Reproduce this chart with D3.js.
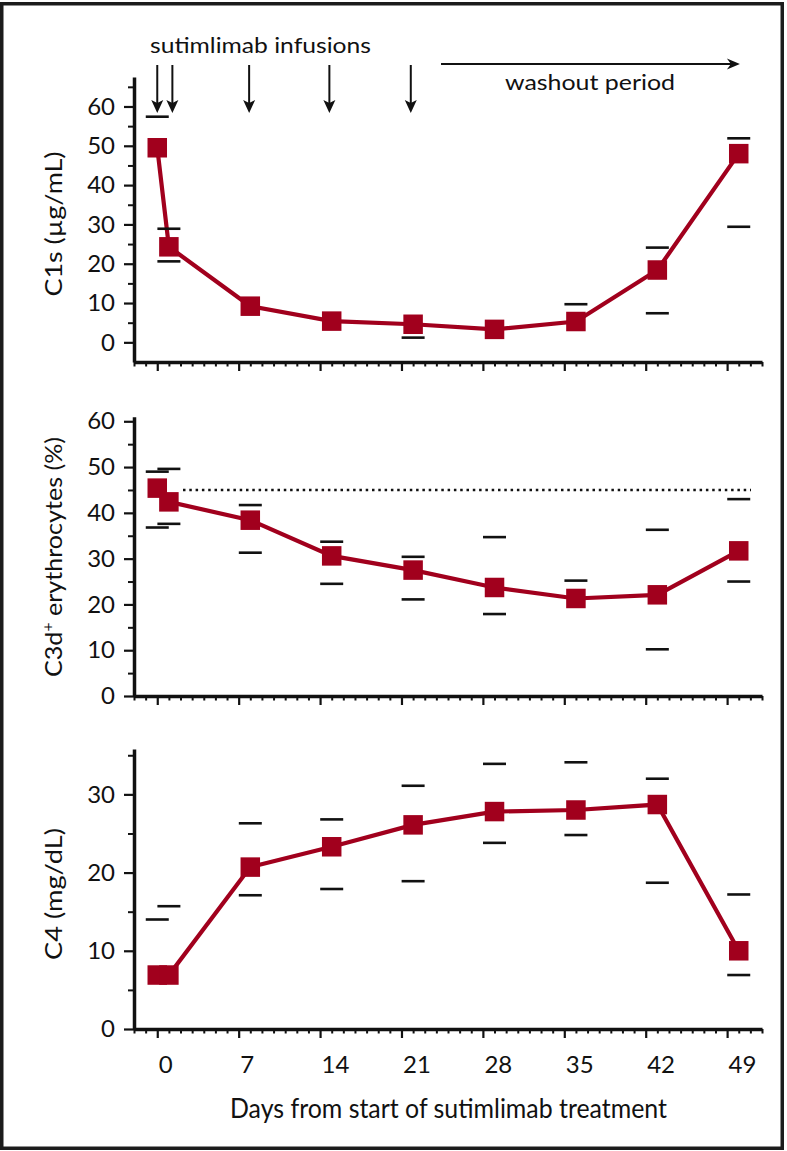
<!DOCTYPE html>
<html>
<head>
<meta charset="utf-8">
<script src="https://cdn.jsdelivr.net/npm/d3@7"></script>
<style>
  html, body { margin: 0; padding: 0; background: #fff; }
  svg { display: block; }
  text { font-family: Lato, "Open Sans", sans-serif; fill: #111; }
</style>
</head>
<body>
<svg id="chart" width="787" height="1151"></svg>
<script>
// ---------- data ----------
const days = [0, 1, 8, 15, 22, 29, 36, 43, 50];
const majorDayTicks = [0, 7, 14, 21, 28, 35, 42, 49];

const c1sMean  = [49.5, 24.3, 9.2, 5.4, 4.6, 3.3, 5.3, 18.4, 48.0];
const c1sUpper = [57.4, 28.9, null, null, null, null, 9.7, 24.1, 51.9];
const c1sLower = [null, 20.6, null, null, 1.2, null, null, 7.4, 29.4];

const c3dMean  = [45.4, 42.4, 38.4, 30.6, 27.5, 23.7, 21.3, 22.1, 31.7];
const c3dUpper = [49.0, 49.6, 41.7, 33.7, 30.4, 34.7, 25.2, 36.3, 43.0];
const c3dLower = [36.8, 37.6, 31.3, 24.5, 21.1, 17.9, null, 10.2, 25.0];
const c3dReference = 45;

const c4Mean  = [6.9, 6.9, 20.7, 23.3, 26.1, 27.8, 28.0, 28.7, 10.0];
const c4Upper = [14.0, 15.7, 26.3, 26.8, 31.1, 33.9, 34.1, 32.0, 17.2];
const c4Lower = [null, null, 17.1, 17.9, 18.9, 23.8, 24.8, 18.7, 6.9];

const c1sTicks = [0, 10, 20, 30, 40, 50, 60];
const c1sMinor = [5, 15, 25, 35, 45, 55, 65];
const c3dTicks = [0, 10, 20, 30, 40, 50, 60];
const c3dMinor = [5, 15, 25, 35, 45, 55];
const c4Ticks = [0, 10, 20, 30];
const c4Minor = [5, 15, 25, 35];

const infusionDays = [0, 1.3, 7.9, 14.8, 21.8];
const washoutStart = 24.4, washoutEnd = 50.1;

// ---------- styling ----------
const RED = "#a1001d";
const svg = d3.select("#chart");

svg.append("rect")
  .attr("x", 1.75).attr("y", 3.75).attr("width", 780.5).attr("height", 1144.5)
  .attr("fill", "none").attr("stroke", "#1c1c1c").attr("stroke-width", 3.5);

const x = d3.scaleLinear().domain([-2, 52]).range([134, 762]);
const minorDays = d3.range(-2, 53).filter(d => !majorDayTicks.includes(d));

function panel(opts) {
  const y = d3.scaleLinear().domain(opts.domain).range(opts.range);
  const g = svg.append("g");
  const axisY = opts.range[0];

  // y axis
  const ya = g.append("g").attr("transform", `translate(${x.range()[0]},0)`)
    .call(d3.axisLeft(y).tickValues(opts.ticks).tickSize(10).tickPadding(9).tickSizeOuter(0));
  ya.select(".domain").attr("stroke", "#111").attr("stroke-width", 3.5);
  ya.selectAll(".tick line").attr("stroke", "#111").attr("stroke-width", 2.2);
  ya.selectAll(".tick text").attr("font-size", 24).attr("font-family", "Lato, sans-serif").attr("fill", "#111");
  const ym = g.append("g").attr("transform", `translate(${x.range()[0]},0)`)
    .call(d3.axisLeft(y).tickValues(opts.minor).tickSize(6).tickFormat(""));
  ym.select(".domain").remove();
  ym.selectAll(".tick line").attr("stroke", "#111").attr("stroke-width", 2);

  // x axis
  const xa = g.append("g").attr("transform", `translate(0,${axisY})`)
    .call(d3.axisBottom(x).tickValues(majorDayTicks).tickSize(9).tickSizeOuter(0)
      .tickFormat(opts.xLabels ? d3.format("d") : ""));
  xa.select(".domain").attr("stroke", "#111").attr("stroke-width", 3.5);
  xa.selectAll(".tick line").attr("stroke", "#111").attr("stroke-width", 2.2);
  xa.selectAll(".tick text")
    .attr("font-size", 24).attr("font-family", "Lato, sans-serif").attr("fill", "#111")
    .attr("text-anchor", "start").attr("x", 1).attr("y", 44).attr("dy", 0);
  const xm = g.append("g").attr("transform", `translate(0,${axisY})`)
    .call(d3.axisBottom(x).tickValues(minorDays).tickSize(4.5).tickFormat(""));
  xm.select(".domain").remove();
  xm.selectAll(".tick line").attr("stroke", "#111").attr("stroke-width", 2);

  // reference line
  if (opts.reference != null) {
    g.append("line")
      .attr("x1", 183).attr("x2", 751)
      .attr("y1", y(opts.reference)).attr("y2", y(opts.reference))
      .attr("stroke", "#111").attr("stroke-width", 2.5).attr("stroke-dasharray", "2.5,3.8");
  }

  const pts = days.map((d, i) => ({ d, m: opts.mean[i], u: opts.upper[i], l: opts.lower[i] }));

  // line
  g.append("path").datum(pts)
    .attr("d", d3.line().x(p => x(p.d)).y(p => y(p.m)))
    .attr("fill", "none").attr("stroke", RED).attr("stroke-width", 4.2);

  // error bar caps
  const bars = [];
  pts.forEach(p => {
    if (p.u != null) bars.push({ d: p.d, v: p.u });
    if (p.l != null) bars.push({ d: p.d, v: p.l });
  });
  g.selectAll("line.cap").data(bars).join("line").attr("class", "cap")
    .attr("x1", b => x(b.d) - 11.5).attr("x2", b => x(b.d) + 11.5)
    .attr("y1", b => y(b.v)).attr("y2", b => y(b.v))
    .attr("stroke", "#111").attr("stroke-width", 2.6);

  // markers
  const S = 19.5;
  g.selectAll("rect.pt").data(pts).join("rect").attr("class", "pt")
    .attr("x", p => x(p.d) - S / 2).attr("y", p => y(p.m) - S / 2)
    .attr("width", S).attr("height", S)
    .attr("fill", RED);

  // y label
  const lab = g.append("text")
    .attr("transform", `translate(62,${opts.labelY}) rotate(-90)`)
    .attr("text-anchor", "middle").attr("font-size", 24)
    .attr("textLength", opts.labelLen).attr("lengthAdjust", "spacingAndGlyphs");
  opts.label(lab);
  return y;
}

panel({
  domain: [-5, 67.5], range: [362, 77],
  ticks: c1sTicks, minor: c1sMinor,
  mean: c1sMean, upper: c1sUpper, lower: c1sLower,
  labelY: 224, labelLen: 145,
  label: t => t.text("C1s (µg/mL)")
});

panel({
  domain: [0, 61], range: [696, 416.7],
  ticks: c3dTicks, minor: c3dMinor,
  mean: c3dMean, upper: c3dUpper, lower: c3dLower,
  reference: c3dReference,
  labelY: 557, labelLen: 240,
  label: t => {
    t.append("tspan").text("C3d");
    t.append("tspan").attr("font-size", 15).attr("dy", -9).text("+");
    t.append("tspan").attr("dy", 9).text(" erythrocytes (%)");
  }
});

panel({
  domain: [0, 35.8], range: [1029, 749],
  ticks: c4Ticks, minor: c4Minor,
  mean: c4Mean, upper: c4Upper, lower: c4Lower,
  xLabels: true,
  labelY: 894, labelLen: 132,
  label: t => t.text("C4 (mg/dL)")
});

// x-axis title
svg.append("text")
  .attr("x", 230).attr("y", 1118)
  .attr("font-family", "'Liberation Sans Narrow', 'DejaVu Sans Condensed', Roboto, sans-serif")
  .attr("font-size", 27)
  .attr("textLength", 437).attr("lengthAdjust", "spacingAndGlyphs")
  .text("Days from start of sutimlimab treatment");

// annotations
svg.append("text").attr("x", 150).attr("y", 53).attr("font-size", 21)
  .attr("textLength", 221).attr("lengthAdjust", "spacingAndGlyphs")
  .text("sutimlimab infusions");

const ann = svg.append("g");
infusionDays.forEach(d => {
  const cx = x(d);
  ann.append("line").attr("x1", cx).attr("x2", cx).attr("y1", 65).attr("y2", 106)
    .attr("stroke", "#111").attr("stroke-width", 2);
  ann.append("path")
    .attr("d", `M${cx},113 L${cx - 6},100 L${cx},103 L${cx + 6},100 Z`)
    .attr("fill", "#111");
});

const wx1 = x(washoutStart), wx2 = x(washoutEnd);
ann.append("line").attr("x1", wx1).attr("x2", wx2 - 6).attr("y1", 64).attr("y2", 64)
  .attr("stroke", "#111").attr("stroke-width", 2);
ann.append("path")
  .attr("d", `M${wx2},64 L${wx2 - 13},58.5 L${wx2 - 9},64 L${wx2 - 13},69.5 Z`)
  .attr("fill", "#111");

svg.append("text").attr("x", 590).attr("y", 90).attr("font-size", 21)
  .attr("text-anchor", "middle")
  .attr("textLength", 170).attr("lengthAdjust", "spacingAndGlyphs")
  .text("washout period");
</script>
</body>
</html>
